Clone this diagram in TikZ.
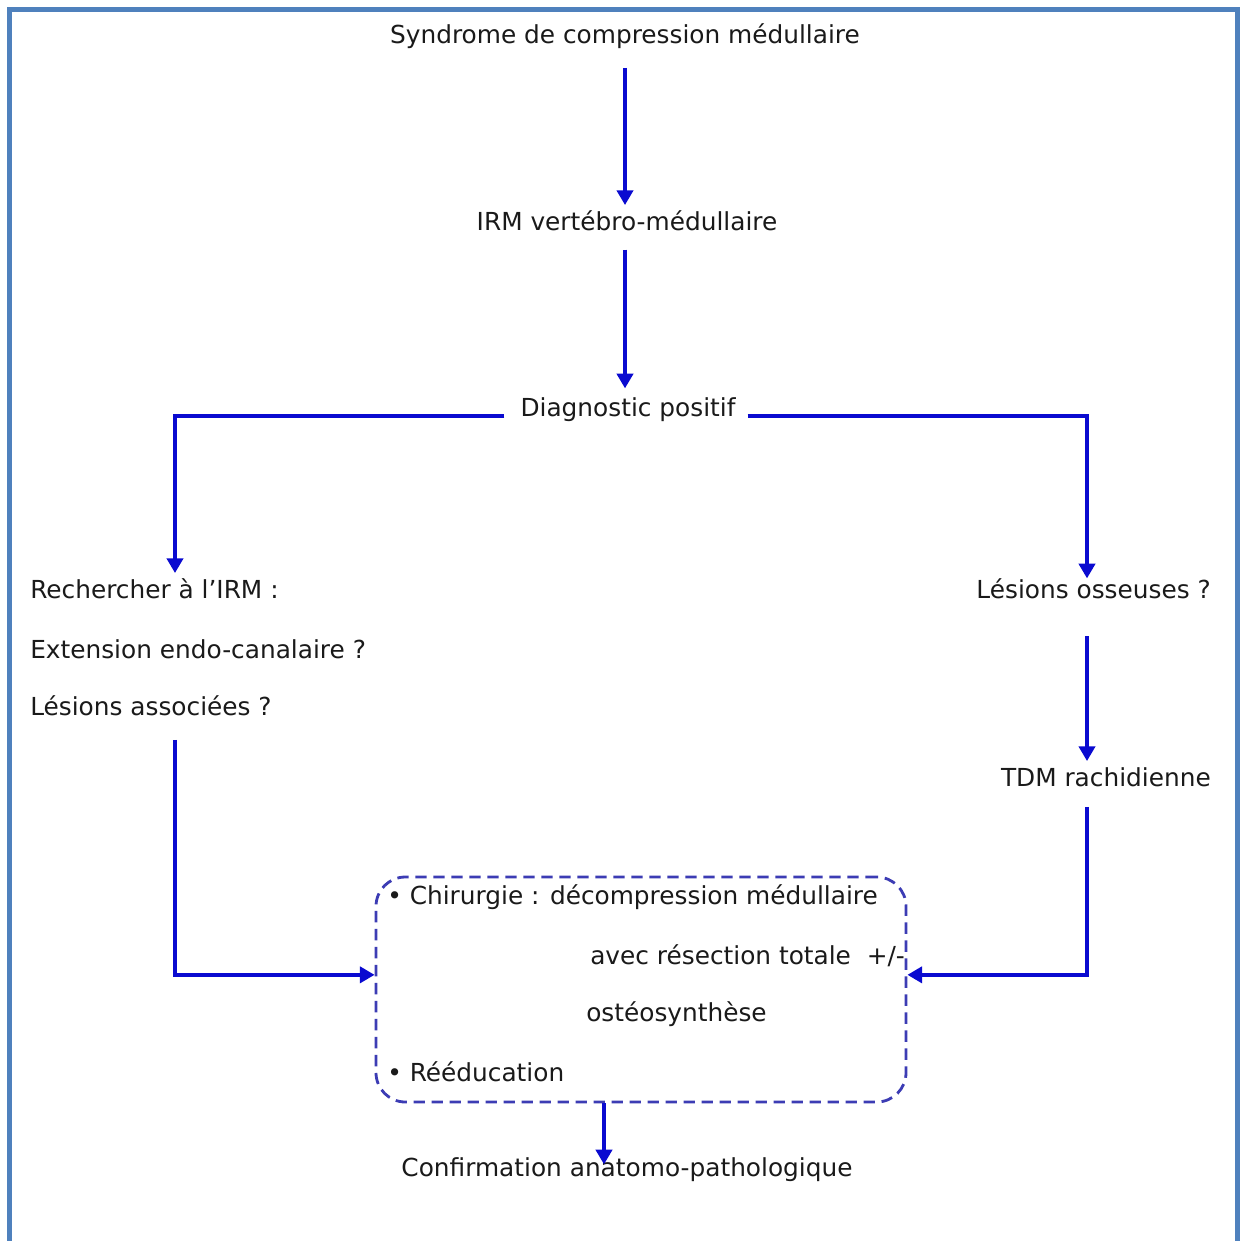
\documentclass[tikz,border=0pt]{standalone}
\usepackage{fontspec}
\setmainfont{DejaVu Sans}
\usetikzlibrary{arrows.meta,calc}
\definecolor{framec}{HTML}{4F81BD}
\definecolor{arrowblue}{HTML}{0A0AD0}
\definecolor{boxblue}{HTML}{3C3CB4}
\definecolor{txt}{HTML}{1A1A1A}
\begin{document}
\begin{tikzpicture}[x=0.75pt,y=-0.75pt,
  lbl/.style={inner sep=0pt, text=txt, text height=14pt, text depth=4pt,
    font=\fontsize{18.6}{22}\selectfont},
  arr/.style={draw=arrowblue, line width=3pt,
    -{Triangle[length=11pt,width=12pt]}},
  dbox/.style={draw=boxblue, line width=2.1pt, dash pattern=on 8.5pt off 5pt,
    rounded corners=22pt, inner sep=0pt}]
\useasboundingbox (0,0) rectangle (1240,1241);
\fill[white] (0,0) rectangle (1240,1241);
\draw[framec, line width=4pt] (9.5,1260) -- (9.5,9.5) -- (1237.5,9.5) -- (1237.5,1260);

% nodes
\node[lbl] (syn) at (625,37) {Syndrome de compression médullaire};
\node[lbl] (irm) at (627,224) {IRM vertébro-médullaire};
\node[lbl] (diag) at (628,410) {Diagnostic positif};
\node[lbl, anchor=west] (rech) at (30,592) {Rechercher à l’IRM :};
\node[lbl, anchor=west] (ext) at (30,652) {Extension endo-canalaire ?};
\node[lbl, anchor=west] (les) at (30,709) {Lésions associées ?};
\node[lbl, anchor=east] (oss) at (1211,592) {Lésions osseuses ?};
\node[lbl, anchor=east] (tdm) at (1211,780) {TDM rachidienne};
\node[dbox, minimum width=397.5pt, minimum height=168.75pt] (box) at (641,989.5) {};
\node[lbl, anchor=west] (chir) at (387,898) {• Chirurgie : décompression médullaire};
\node[lbl, anchor=west] (avec) at (590,958) {avec résection totale\ \ +/-};
\node[lbl, anchor=west] (osteo) at (586,1015) {ostéosynthèse};
\node[lbl, anchor=west] (reed) at (387,1075) {• Rééducation};
\node[lbl] (conf) at (627,1170) {Confirmation anatomo-pathologique};

\coordinate (L) at (175,416);
\coordinate (R) at (1087,416);

% connectors
\draw[arr, shorten <=14pt, shorten >=5pt] (syn.south) -- (syn.south |- irm.north);
\draw[arr, shorten <=10pt, shorten >=7pt] (irm.south -| syn.south) -- (syn.south |- diag.north);
\draw[arr, shorten >=5pt] ([xshift=-12pt]diag.west |- L) -- (L) -- (L |- rech.north);
\draw[arr, shorten >=1pt] ([xshift=9pt]diag.east |- R) -- (R) -- (R |- oss.north);
\draw[arr, shorten <=24pt, shorten >=5pt] (R |- oss.south) -- (R |- tdm.north);
\draw[arr, shorten <=11pt] (R |- tdm.south) |- ([yshift=11pt]box.east);
\draw[arr, shorten <=14pt] (L |- les.south) |- ([yshift=11pt]box.west);
\draw[arr, shorten >=-5pt] ([xshift=-27.75pt]box.south) -- ([xshift=-27.75pt]box.south |- conf.north);
\end{tikzpicture}
\end{document}
